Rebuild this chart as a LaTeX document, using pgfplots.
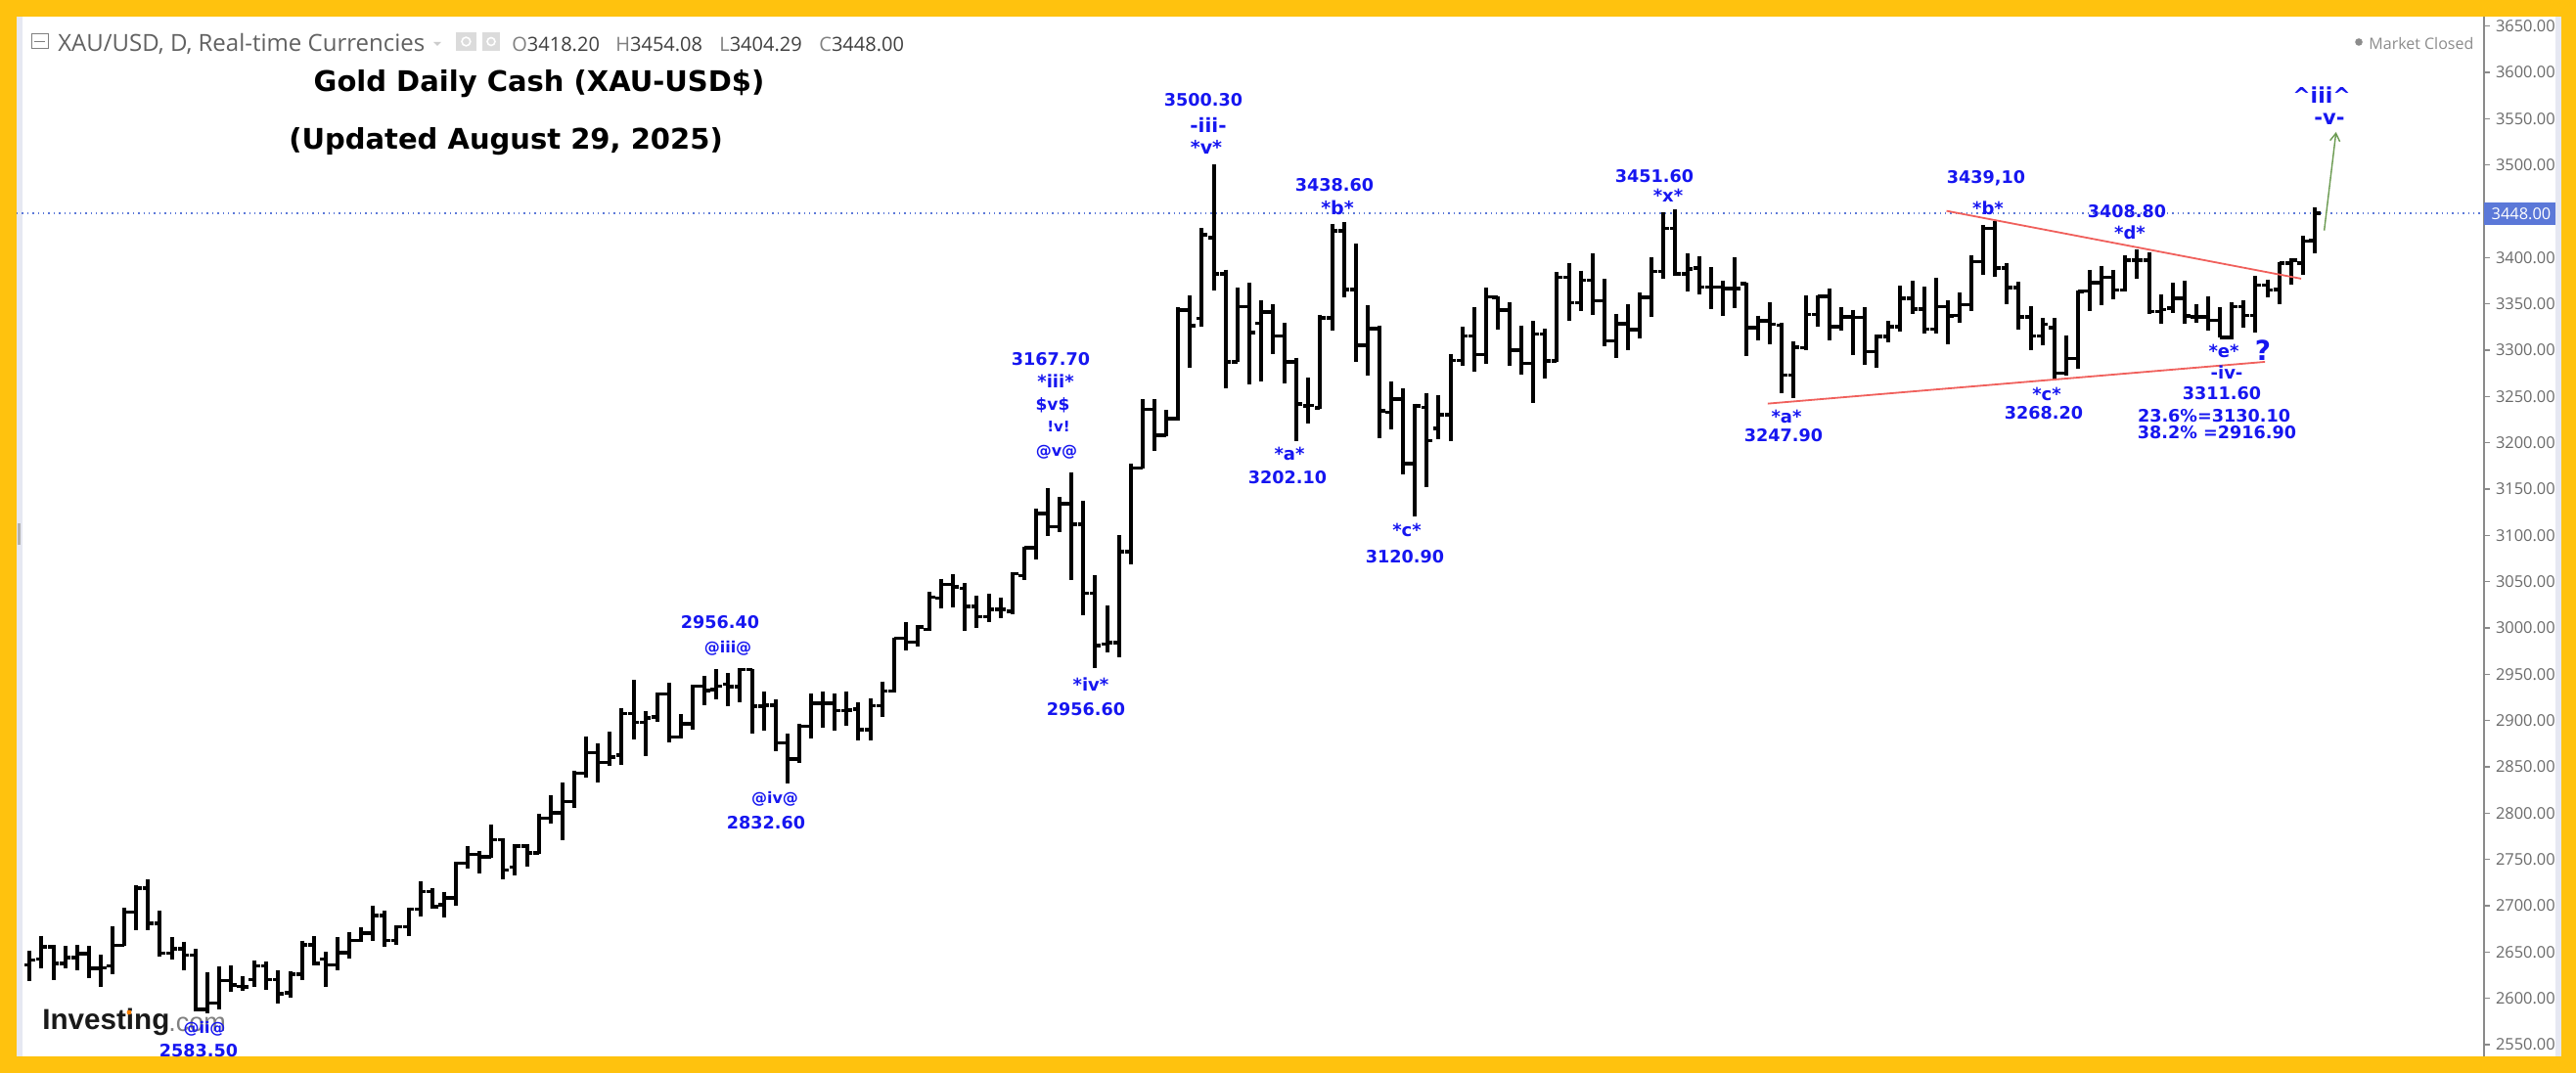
\documentclass[border=0pt]{standalone}
\usepackage{fontspec}
\setmainfont{Open Sans}
\newfontfamily\ann{DejaVu Sans}
\newfontfamily\logo{Liberation Sans}
\usepackage{pgfplots}
\usepackage{pgfplotstable}
\pgfplotsset{compat=1.18}
\usetikzlibrary{arrows.meta}

\definecolor{frame}{HTML}{FFC20E}
\definecolor{stripe}{HTML}{E6E8F2}
\definecolor{annblue}{HTML}{1616F0}
\definecolor{lastblue}{HTML}{5B78D8}
\definecolor{trend}{HTML}{F0605C}
\definecolor{arrowgreen}{HTML}{6A9A50}
\definecolor{axisgray}{HTML}{8A8A8A}
\definecolor{ticktext}{HTML}{6A6A6A}

% daily bars: index, open, high, low, close
\pgfplotstableread{
i o h l c
0 2636 2651.8 2618.4 2641.3
1 2642.3 2667.7 2632.5 2655.4
2 2655.4 2657.8 2620.2 2637.8
3 2637.8 2656.4 2632.5 2643.8
4 2643.8 2657.8 2630.7 2648.3
5 2648.3 2656.4 2621.9 2632.5
6 2632.5 2647.3 2612.4 2633.2
7 2635.3 2677.5 2626.1 2657.1
8 2657.1 2697.6 2657.1 2693
9 2693 2722.3 2674 2718.8
10 2718.8 2728.3 2674 2681.1
11 2681.1 2694.5 2644.8 2649
12 2649 2665.9 2642.3 2653.6
13 2653.6 2661.4 2630.7 2646.6
14 2646.6 2653.6 2586 2587.8
15 2587.8 2627.9 2583.5 2594.8
16 2594.8 2634.2 2588.5 2619.1
17 2619.1 2635.3 2606.8 2614.2
18 2613.1 2623.7 2607.8 2612.4
19 2620.2 2641.3 2612.4 2635.3
20 2635.3 2639.5 2609.6 2620.2
21 2620.2 2630.7 2594.8 2605
22 2606.1 2629.7 2600.8 2626.1
23 2626.1 2662.4 2620.2 2657.8
24 2657.8 2667 2636 2637.8
25 2642.3 2650.1 2612.4 2636
26 2636 2665.9 2630.7 2649.4
27 2649.4 2671.9 2643 2662.4
28 2662.4 2676.5 2660.6 2670.5
29 2670.5 2700.4 2662.4 2689.5
30 2689.5 2694.8 2655.4 2662.4
31 2662.4 2679 2657.8 2677.5
32 2677.5 2698.3 2667.6 2696.5
33 2696.5 2726.8 2688.8 2715.2
34 2715.2 2718.7 2696.5 2699.3
35 2701.1 2715.2 2687 2708.8
36 2708.8 2747.6 2700.4 2745.8
37 2745.8 2764.5 2739.8 2755.7
38 2755.7 2759.2 2734.5 2752.8
39 2752.8 2787.3 2751.4 2771.5
40 2771.5 2773.3 2728.5 2738.8
41 2741.6 2766.2 2732.8 2764.5
42 2764.5 2766.9 2742.6 2757.4
43 2757.4 2799 2755.7 2794.4
44 2794.4 2819 2789.1 2800.7
45 2800.7 2833.1 2770.4 2812.7
46 2812.7 2845.4 2806 2843
47 2843 2883.1 2838.4 2865.5
48 2865.5 2875.4 2833.1 2855
49 2855 2887.7 2850.7 2860.6
50 2863 2913.4 2852.5 2907.8
51 2907.8 2944 2879.9 2898.3
52 2898.3 2910.6 2862 2902.8
53 2904.2 2930 2898.3 2928.9
54 2928.9 2940.5 2876.1 2882.4
55 2882.4 2907.1 2880.7 2896.5
56 2896.5 2938.7 2890.5 2937
57 2937 2948.3 2916.6 2932.4
58 2933.5 2955.6 2922.9 2937
59 2939.5 2951.1 2915.2 2936.6
60 2936.6 2956.4 2919.4 2955.3
61 2955.3 2955.6 2885.9 2915.5
62 2915.5 2931.7 2888.7 2916.6
63 2916.6 2922.9 2866.6 2876.1
64 2876.1 2885.9 2832.6 2858.5
65 2858.5 2896.5 2854.3 2893.7
66 2893.7 2928.9 2880.7 2918.4
67 2918.4 2931.7 2892.3 2918.4
68 2918.4 2928.9 2889.5 2910.6
69 2910.6 2931.7 2894.8 2911.3
70 2912.4 2919.4 2878.9 2890.2
71 2890.2 2924 2878.9 2915.9
72 2915.9 2942.3 2904.3 2931.7
73 2931.7 2989.8 2930 2988.8
74 2988.8 3006.4 2975.8 2984.6
75 2984.6 3002.9 2980.3 3001.1
76 2998.6 3039.1 2996.9 3033.2
77 3032.1 3053.2 3021.5 3047.2
78 3047.2 3057.8 3022.6 3044.4
79 3042.7 3048.6 2996.9 3023.3
80 3023.3 3034.6 3000.4 3012
81 3012 3036.7 3006.4 3019.8
82 3019.8 3033.2 3011 3019.8
83 3018 3060.3 3015.2 3058.5
84 3056.7 3087.7 3052.2 3086.7
85 3086.7 3128.9 3074.3 3123.6
86 3123.6 3150.8 3099 3109.2
87 3109.2 3141.3 3103.6 3134.2
88 3134.2 3167.7 3051.5 3112
89 3112 3137.7 3013.8 3037.4
90 3037.4 3056.7 2956.6 2981
91 2982.8 3024.3 2973.3 2983.9
92 2983.9 3100 2968.7 3082.4
93 3082.4 3177.2 3069.1 3172.9
94 3172.9 3246.9 3172.2 3236.3
95 3236.3 3246.9 3191.6 3208.1
96 3208.1 3235.3 3207.4 3225.8
97 3225.8 3346.5 3224 3343
98 3343 3358.8 3281.4 3326.1
99 3334.2 3431.7 3325.4 3424.7
100 3421.2 3500.3 3364.8 3382.4
101 3382.4 3387 3258.5 3287.4
102 3287.4 3367.7 3287.4 3347.2
103 3347.2 3372.6 3262.7 3319.1
104 3328.9 3354.3 3266.2 3340.9
105 3340.9 3350 3296.2 3315.5
106 3315.5 3329.6 3264.5 3287.4
107 3287.4 3292 3202.1 3241.6
108 3239.8 3270.5 3220.5 3240.5
109 3237.4 3338.4 3236.3 3334.9
110 3334.9 3436.3 3320.8 3428.9
111 3428.9 3438.6 3357.1 3365.5
112 3365.5 3414.8 3287.4 3305
113 3305 3348.3 3272.6 3323.3
114 3323.3 3326.8 3205.3 3234.6
115 3232.8 3266.2 3214.5 3246.9
116 3246.9 3258.5 3165.9 3177.5
117 3177.5 3242.3 3120.9 3239.8
118 3238.1 3253.9 3151.8 3202.2
119 3215.2 3251.1 3203.6 3230.3
120 3230.3 3296.2 3202.2 3289.1
121 3289.1 3325.4 3283.1 3315.5
122 3315.5 3346.5 3276.8 3295.1
123 3295.1 3367.6 3285.6 3357.7
124 3357 3357.7 3322.5 3343
125 3343 3351.4 3283.1 3299.7
126 3299.7 3326.8 3273.9 3285.6
127 3285.6 3331.3 3243.3 3317.3
128 3317.3 3323.2 3269 3288.4
129 3288.4 3384.2 3287.3 3378.9
130 3378.9 3394 3331.3 3351.4
131 3351.4 3385.9 3341.9 3375.4
132 3375.4 3404.6 3337.7 3353.5
133 3353.5 3377.1 3303.9 3310.2
134 3310.2 3339.1 3291.9 3328.5
135 3328.5 3349.7 3299.7 3322.5
136 3322.5 3362 3313 3357
137 3357 3400 3335.9 3384.9
138 3384.9 3448.6 3377.1 3431.7
139 3431.7 3451.6 3379.9 3382.4
140 3382.4 3404.2 3363 3387.7
141 3388.7 3401.8 3360.6 3368.3
142 3368.3 3389.4 3344.7 3368.3
143 3368.3 3375.4 3337.3 3366.6
144 3366.6 3400 3345.4 3366.6
145 3371.8 3372.5 3293.7 3324.3
146 3324.3 3337.3 3310.2 3332
147 3332 3351.4 3306.7 3327.8
148 3326.8 3329.6 3253.9 3273.2
149 3273.2 3309.5 3247.9 3303
150 3302.5 3358.8 3299.7 3338.4
151 3338.4 3359.5 3325.4 3357.8
152 3357.8 3366.6 3310.3 3325.4
153 3325.4 3346.5 3320.8 3336
154 3336 3343.7 3294.4 3335.6
155 3335.6 3346.5 3284.5 3298.6
156 3298.6 3317.3 3281.4 3314.5
157 3314.5 3331.4 3308.5 3325.4
158 3325.4 3369.4 3319.8 3356
159 3356 3375.4 3339.5 3344.4
160 3344.4 3368.3 3318 3322.6
161 3322.6 3378.2 3318 3347.2
162 3347.2 3353.6 3306.7 3336.7
163 3337.4 3362 3329.6 3349
164 3349 3402.9 3341.9 3395.8
165 3395.8 3435.2 3381.7 3431.7
166 3431.7 3439.1 3378.9 3388.8
167 3388.8 3393.7 3350 3367.6
168 3367.6 3373.6 3322.6 3336
169 3336 3347.2 3299.7 3315.5
170 3315.5 3334.9 3305.7 3327.9
171 3324.3 3334.9 3268.2 3275
172 3275 3316.2 3272.6 3290.9
173 3290.9 3364.1 3279.6 3363.1
174 3364.1 3386.7 3341.9 3372.6
175 3372.6 3391.2 3348.3 3378.9
176 3378.9 3386.7 3355.3 3364.8
177 3364.8 3402.9 3363.1 3397.2
178 3397.2 3408.8 3377.2 3397.2
179 3397.2 3406 3339.5 3341.9
180 3341.9 3360.3 3328.6 3343.7
181 3345.5 3372.6 3340.2 3356
182 3356 3375.4 3328.6 3336.7
183 3336 3349.7 3329.6 3336
184 3336 3358.5 3320.8 3332.4
185 3332.4 3346.5 3313.8 3313.8
186 3313.8 3351.5 3311.6 3347.2
187 3347.2 3353.6 3324.3 3337.7
188 3337.7 3380 3319.1 3370.1
189 3370.1 3376.4 3357.1 3364.8
190 3365.5 3394.8 3349.7 3393.7
191 3393.7 3399.3 3371.2 3397.2
192 3393.7 3423.6 3381.7 3417.6
193 3418.2 3454.08 3404.29 3448
}\bars

\newcommand{\lab}[4][8.8]{\node[text=annblue,inner sep=0pt,font=\ann\bfseries\fontsize{#1}{#1}\selectfont] at ({#2*0.5pt},{(1097-#3)*0.5pt}) {#4};}
\newcommand{\hdr}[4]{\node[anchor=west,inner sep=0pt,text=#3,font=\fontsize{#4}{#4}\selectfont] at ({#1*0.5pt},{(1097-45)*0.5pt}) {#2};}

\begin{document}
\begin{tikzpicture}[x=1pt,y=1pt]
% frame and pane
\fill[frame] (0,0) rectangle (1316.5pt,548.5pt);
\fill[white] (8.5pt,8.5pt) rectangle (1309pt,540pt);
\fill[stripe] (8.5pt,8.5pt) rectangle (11.5pt,540pt);
\fill[stripe] (1306pt,8.5pt) rectangle (1309pt,540pt);
\fill[gray!60] (9pt,270pt) rectangle (10.5pt,281pt);
% logo
\node[anchor=west,inner sep=0pt,text=black!90,font=\logo\bfseries\fontsize{14.8}{15}\selectfont] at (21.5pt,{(1097-1045)*0.5pt}) {Investing};
\node[anchor=west,inner sep=0pt,text=gray,font=\logo\fontsize{13.5}{14}\selectfont] at (86pt,{(1097-1047)*0.5pt}) {.com};
\fill[orange] (66pt,{(1097-1035)*0.5pt}) circle (1.2pt);

\begin{axis}[
  at={(8.5pt,8.5pt)}, anchor=south west,
  scale only axis, width=1261pt, height=531.5pt,
  xmin=-1.1, xmax=207.3, ymin=2537.4, ymax=3660.2,
  axis x line=none, axis y line*=right,
  axis line style={axisgray,line width=1pt},
  ytick={2550,2600,...,3650},
  tick align=outside, major tick length=3pt,
  tick style={axisgray,line width=0.6pt},
  yticklabel style={text=ticktext,font=\fontsize{8.2}{8.5}\selectfont,xshift=-0.5pt},
  /pgf/number format/.cd, fixed, fixed zerofill, precision=2, 1000 sep={}, assume math mode=true,
  /pgfplots/.cd,
  clip=true
]
% last price
\addplot[lastblue,line width=0.7pt,dotted,forget plot] coordinates {(-1.1,3448) (207.3,3448)};
% high-low stems, then open tick left and close tick right
\addplot[draw=none,forget plot,error bars/.cd,y dir=minus,y explicit,error mark=none,
  error bar style={draw=black,line width=2pt}]
  table[x=i,y=h,y error minus expr=\thisrow{h}-\thisrow{l}] {\bars};
\addplot[draw=none,forget plot,error bars/.cd,x dir=minus,x fixed=0.48,error mark=none,
  error bar style={draw=black,line width=1.8pt}]
  table[x=i,y=o] {\bars};
\addplot[draw=none,forget plot,error bars/.cd,x dir=plus,x fixed=0.48,error mark=none,
  error bar style={draw=black,line width=1.8pt}]
  table[x=i,y=c] {\bars};
% trend lines and projection
\addplot[trend,line width=0.9pt,forget plot] coordinates {(161.9,3450.4) (191.85,3377.2)};
\addplot[trend,line width=0.9pt,forget plot] coordinates {(146.8,3242.3) (188.8,3287.4)};
\addplot[arrowgreen,line width=0.7pt,forget plot,-{Straight Barb[length=4pt,width=5pt]}] coordinates {(193.8,3429.2) (194.8,3535.6)};
\end{axis}

% header row
\draw[gray,line width=0.5pt] (16pt,{(1097-50)*0.5pt}) rectangle (24.5pt,{(1097-35)*0.5pt});
\draw[gray,line width=0.5pt] (17.5pt,{(1097-42.5)*0.5pt}) -- (23pt,{(1097-42.5)*0.5pt});
\hdr{59}{XAU/USD, D, Real-time Currencies}{black!62}{12}
\fill[black!20] (221.5pt,{(1097-43)*0.5pt}) -- (225.5pt,{(1097-43)*0.5pt}) -- (223.5pt,{(1097-47)*0.5pt}) -- cycle;
\fill[black!14] (233pt,{(1097-52)*0.5pt}) rectangle (243.5pt,{(1097-33)*0.5pt});
\fill[black!14] (246.5pt,{(1097-52)*0.5pt}) rectangle (255.5pt,{(1097-33)*0.5pt});
\draw[white,line width=0.8pt] (238.2pt,{(1097-42.5)*0.5pt}) circle (2.2pt);
\draw[white,line width=0.8pt] (251pt,{(1097-42.5)*0.5pt}) circle (2pt);
\hdr{523}{\textcolor{black!50}{O}3418.20}{black!75}{10}
\hdr{629}{\textcolor{black!50}{H}3454.08}{black!75}{10}
\hdr{735}{\textcolor{black!50}{L}3404.29}{black!75}{10}
\hdr{837}{\textcolor{black!50}{C}3448.00}{black!75}{10}
\fill[black!45] (1205.5pt,{(1097-43)*0.5pt}) circle (1.9pt);
\hdr{2421}{Market Closed}{black!45}{8}

% last price tag
\fill[lastblue] (1269.5pt,{(1097-230)*0.5pt}) rectangle (1306pt,{(1097-207)*0.5pt});
\node[text=white,inner sep=0pt,font=\fontsize{8.2}{8.5}\selectfont] at (1288.5pt,{(1097-219)*0.5pt}) {3448.00};

% titles
\node[inner sep=0pt,font=\ann\bfseries\fontsize{14.5}{15}\selectfont] at (275.5pt,{(1097-86)*0.5pt}) {Gold Daily Cash (XAU-USD\$)};
\node[inner sep=0pt,font=\ann\bfseries\fontsize{14.5}{15}\selectfont] at (258.5pt,{(1097-145)*0.5pt}) {(Updated August 29, 2025)};

% wave labels
\lab{1230}{102}{3500.30}
\lab[10]{1235}{128}{-iii-}
\lab[9.5]{1233}{150}{*v*}
\lab{1364}{189}{3438.60}
\lab[9.5]{1367}{212}{*b*}
\lab{1074}{367}{3167.70}
\lab[9]{1079}{390}{*iii*}
\lab[8.5]{1076}{414}{\$v\$}
\lab[7.5]{1082}{436}{!v!}
\lab[8]{1080}{462}{@v@}
\lab[9]{1318}{464}{*a*}
\lab{1316}{488}{3202.10}
\lab[9]{1438}{542}{*c*}
\lab{1436}{569}{3120.90}
\lab{736}{636}{2956.40}
\lab[8]{744}{663}{@iii@}
\lab[8]{792}{817}{@iv@}
\lab{783}{841}{2832.60}
\lab[9]{1115}{700}{*iv*}
\lab{1110}{725}{2956.60}
\lab[8]{209}{1052}{@ii@}
\lab{203}{1074}{2583.50}
\lab{1691}{180}{3451.60}
\lab[9]{1705}{200}{*x*}
\lab[9]{1826}{426}{*a*}
\lab{1823}{445}{3247.90}
\lab{2030}{182}{3439,10}
\lab[9]{2032}{213}{*b*}
\lab{2174}{216}{3408.80}
\lab[9]{2177}{238}{*d*}
\lab[9]{2092}{403}{*c*}
\lab{2089}{422}{3268.20}
\lab[9]{2273}{359}{*e*}
\lab[14]{2313}{358}{?}
\lab[9]{2276}{381}{-iv-}
\lab{2271}{402}{3311.60}
\lab{2263}{425}{23.6\%=3130.10}
\lab{2266}{442}{38.2\% =2916.90}
\lab[11]{2373}{97}{\textasciicircum iii\textasciicircum}
\lab[10.5]{2381}{122}{-v-}
\end{tikzpicture}
\end{document}
